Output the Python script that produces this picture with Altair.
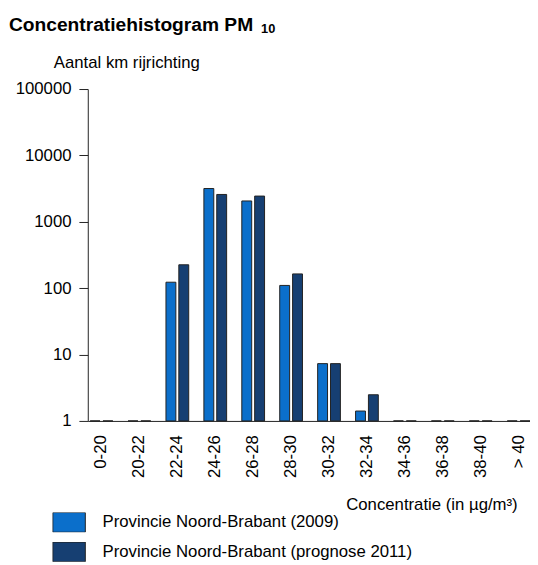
import altair as alt
import pandas as pd

categories = ["0-20", "20-22", "22-24", "24-26", "26-28", "28-30", "30-32",
              "32-34", "34-36", "36-38", "38-40", "> 40"]
series = ["Provincie Noord-Brabant (2009)", "Provincie Noord-Brabant (prognose 2011)"]
values_2009 = [1, 1, 123, 3170, 2060, 110, 7.3, 1.41, 1, 1, 1, 1]
values_2011 = [1, 1, 225, 2580, 2440, 164, 7.3, 2.48, 1, 1, 1, 1]
colors = ["#0B6FCB", "#163F72"]
y_ticks = [1, 10, 100, 1000, 10000, 100000]
title_main = ["Concentratiehistogram PM"]
title_sub = ["10"]
y_title = "Aantal km rijrichting"
x_title = "Concentratie (in µg/m³)"

rows = []
for c, a, b in zip(categories, values_2009, values_2011):
    rows.append({"cat": c, "serie": series[0], "value": a})
    rows.append({"cat": c, "serie": series[1], "value": b})
df = pd.DataFrame(rows)

FONT = "Liberation Sans"
AX = "#222222"

bars = alt.Chart(df).mark_bar(stroke=AX, strokeWidth=1, opacity=1).encode(
    x=alt.X(
        "cat:N", sort=categories,
        scale=alt.Scale(paddingInner=0.40, paddingOuter=0.031, align=1),
        axis=alt.Axis(
            title=x_title, labelAngle=270, labelAlign="right", labelBaseline="middle",
            labelPadding=14, ticks=False, domainColor=AX, domainWidth=1,
            labelFont=FONT, labelFontSize=17, labelColor="#000000",
            titleFont=FONT, titleFontSize=17, titleFontWeight="normal", titleColor="#000000",
            titleX=436, titleY=85, titleAlign="right", titleBaseline="middle",
            labelOverlap=False,
        ),
    ),
    xOffset=alt.XOffset("serie:N", sort=series,
                        scale=alt.Scale(paddingInner=0.23, paddingOuter=0)),
    y=alt.Y(
        "value:Q", stack=None,
        scale=alt.Scale(type="log", domain=[1, 100000]),
        axis=alt.Axis(
            values=y_ticks, format="d", title=y_title, titleAngle=0,
            titleX=-35, titleY=-27, titleAlign="left", titleBaseline="middle",
            titleFont=FONT, titleFontSize=17, titleFontWeight="normal", titleColor="#000000",
            labelFont=FONT, labelFontSize=17, labelColor="#000000",
            tickSize=9, tickColor=AX, domainColor=AX, labelPadding=8,
            grid=False, labelOverlap=False,
        ),
    ),
    y2=alt.datum(1),
    color=alt.Color(
        "serie:N", sort=series,
        scale=alt.Scale(domain=series, range=colors),
        legend=alt.Legend(
            title=None, orient="none", legendX=-36, legendY=430, direction="vertical",
            symbolType="M-1,-0.606L1,-0.606L1,0.606L-1,0.606Z", symbolSize=1089,
            symbolStrokeColor=AX, symbolStrokeWidth=1, symbolOpacity=1,
            labelFont=FONT, labelFontSize=17, labelColor="#000000",
            labelOffset=17, labelLimit=400, rowPadding=10, clipHeight=20,
        ),
    ),
)

t_main = alt.Chart(pd.DataFrame({"t": title_main})).mark_text(
    font=FONT, fontSize=19.5, fontWeight="bold", align="left", baseline="alphabetic",
    color="#000000",
).encode(text="t:N", x=alt.value(-80), y=alt.value(-59))

t_sub = alt.Chart(pd.DataFrame({"t": title_sub})).mark_text(
    font=FONT, fontSize=13, fontWeight="bold", align="left", baseline="alphabetic",
    color="#000000",
).encode(text="t:N", x=alt.value(176), y=alt.value(-57))

chart = alt.layer(bars, t_main, t_sub).properties(
    width=449, height=337,
    autosize=alt.AutoSizeParams(type="none"),
    padding={"left": 81, "top": 78, "right": 0, "bottom": 142},
).configure_view(stroke=None)

chart.save("out.html", embed_options={"renderer": "svg", "actions": False})
